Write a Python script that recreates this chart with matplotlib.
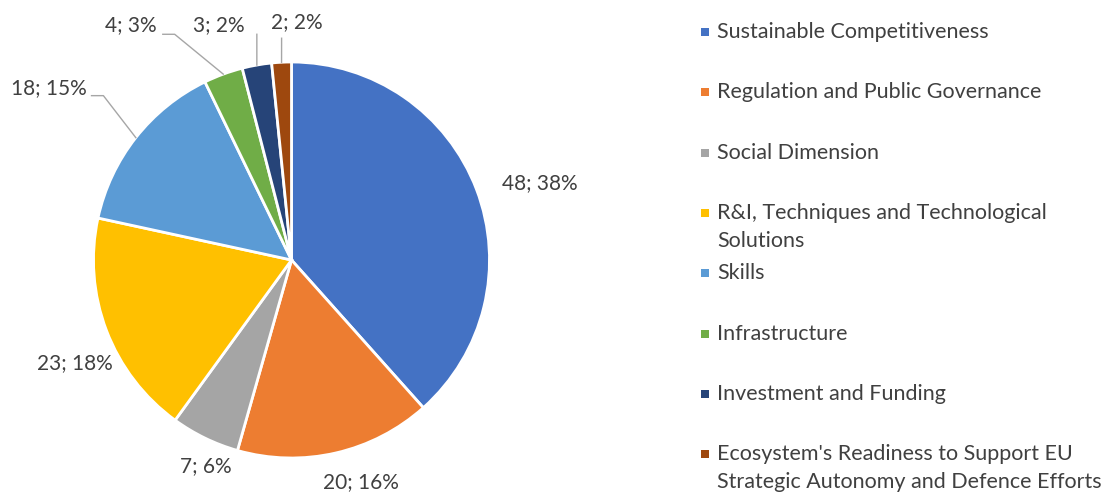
"""Pie chart of topic counts with Excel-style outside labels and a side legend."""

import matplotlib

matplotlib.use("Agg")

import matplotlib.pyplot as plt  # noqa: E402
import numpy as np  # noqa: E402
from matplotlib.patches import Rectangle  # noqa: E402


CATEGORIES = [
    "Sustainable Competitiveness",
    "Regulation and Public Governance",
    "Social Dimension",
    "R&I, Techniques and Technological\nSolutions",
    "Skills",
    "Infrastructure",
    "Investment and Funding",
    "Ecosystem's Readiness to Support EU\nStrategic Autonomy and Defence Efforts",
]
COUNTS = [48, 20, 7, 23, 18, 4, 3, 2]
PERCENT_LABELS = ["38%", "16%", "6%", "18%", "15%", "3%", "2%", "2%"]
COLORS = ["#4472C4", "#ED7D31", "#A5A5A5", "#FFC000",
          "#5B9BD5", "#70AD47", "#264478", "#9E480E"]

# label placement (pie radius units), and elbow for leader lines (None = no line)
LABEL_POS = [(1.256, 0.389), (0.351, -1.121), (-0.432, -1.040), (-1.093, -0.520),
             (-1.225, 0.869), (-0.811, 1.187), (-0.366, 1.187), (0.028, 1.202)]
ELBOWS = [None, None, None, None,
          (-0.95, 0.83), (-0.59, 1.14), (-0.175, 1.14), (-0.05, 1.12)]

TEXT_COLOR = "#404040"
FONT = "Lato"


def main():
    fig = plt.figure(figsize=(11.11, 4.95), dpi=100)
    W, H = 1111, 495
    cx, cy, r = 291.5, 235, 198  # pixels, y from bottom
    ax = fig.add_axes([(cx - r) / W, (cy - r) / H, 2 * r / W, 2 * r / H])
    ax.pie(COUNTS, colors=COLORS, startangle=90, counterclock=False,
           wedgeprops=dict(edgecolor="white", linewidth=2))
    ax.set_xlim(-1, 1)
    ax.set_ylim(-1, 1)
    ax.set_aspect("equal")
    ax.axis("off")

    total = sum(COUNTS)
    cum = np.cumsum([0] + COUNTS)
    for i, (n, pct) in enumerate(zip(COUNTS, PERCENT_LABELS)):
        lx, ly = LABEL_POS[i]
        ax.text(lx, ly, f"{n}; {pct}", ha="center", va="center",
                fontsize=15, color=TEXT_COLOR, family=FONT, clip_on=False)
        if ELBOWS[i] is not None:
            mid = np.deg2rad(90 - (cum[i] + n / 2) / total * 360)
            bx, by = ELBOWS[i]
            xs = [np.cos(mid), bx]
            ys = [np.sin(mid), by]
            if i in (4, 5):
                xs.append(bx - 0.06)
                ys.append(by)
            ax.plot(xs, ys, color="#A6A6A6", linewidth=1, clip_on=False)

    # legend
    y0, step, line_step = 32, 60.3, 28
    for i, (label, color) in enumerate(zip(CATEGORIES, COLORS)):
        ypix = y0 + i * step
        fig.patches.append(Rectangle((701 / W, 1 - (ypix + 4) / H), 8 / W, 8 / H,
                                     transform=fig.transFigure, facecolor=color,
                                     edgecolor="none"))
        for j, line in enumerate(label.split("\n")):
            fig.text(717 / W, 1 - (ypix + j * line_step) / H, line, ha="left",
                     va="center", fontsize=15.5, color=TEXT_COLOR, family=FONT)

    fig.savefig("out.png", dpi=100)
    plt.close(fig)


if __name__ == "__main__":
    main()
